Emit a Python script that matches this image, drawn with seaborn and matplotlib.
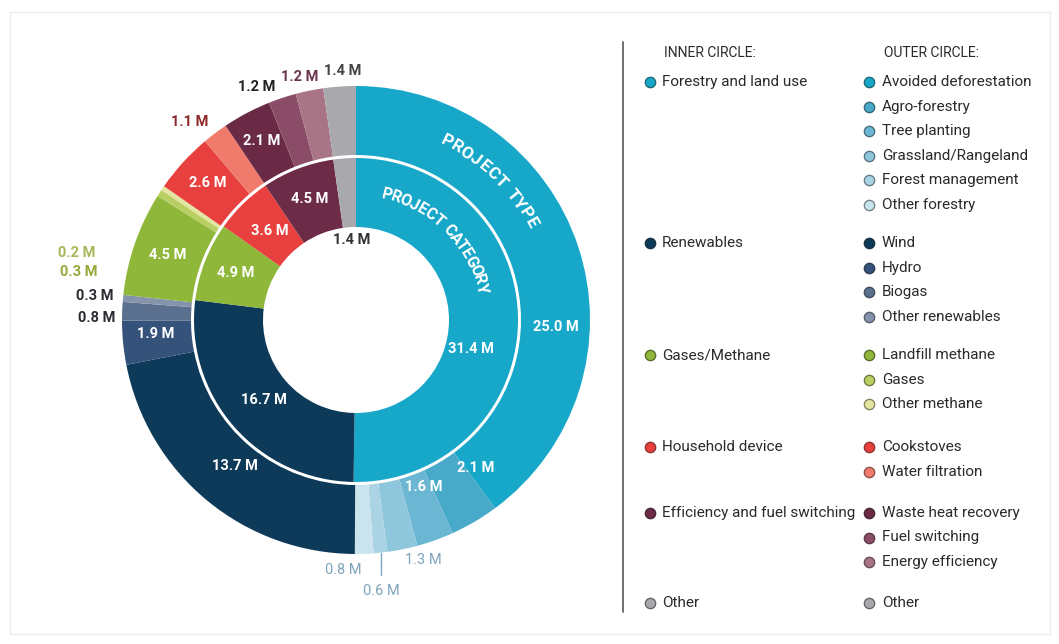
import numpy as np
import matplotlib
matplotlib.use("Agg")
import matplotlib.pyplot as plt
from matplotlib.patches import Rectangle
import seaborn as sns

# ---------------- data ----------------
inner_categories = ["Forestry and land use", "Renewables", "Gases/Methane",
                    "Household device", "Efficiency and fuel switching", "Other"]
inner_values = [31.4, 16.7, 4.9, 3.6, 4.5, 1.4]

outer_categories = ["Avoided deforestation", "Agro-forestry", "Tree planting",
                    "Grassland/Rangeland", "Forest management", "Other forestry",
                    "Wind", "Hydro", "Biogas", "Other renewables",
                    "Landfill methane", "Gases", "Other methane",
                    "Cookstoves", "Water filtration",
                    "Waste heat recovery", "Fuel switching", "Energy efficiency",
                    "Other"]
outer_values = [25.0, 2.1, 1.6, 1.3, 0.6, 0.8,
                13.7, 1.9, 0.8, 0.3,
                4.5, 0.3, 0.2,
                2.6, 1.1,
                2.1, 1.2, 1.2,
                1.4]
outer_group = [0, 0, 0, 0, 0, 0, 1, 1, 1, 1, 2, 2, 2, 3, 3, 4, 4, 4, 5]

# ---------------- styles ----------------
inner_colors = sns.color_palette(["#17a7c9", "#0e3a5a", "#8fb83a", "#e8403e", "#6c2b47", "#a9a9ad"])
outer_colors = sns.color_palette([
    "#17a7c9", "#48a9c9", "#6bb6d2", "#8ec6dc", "#aad4e4", "#c9e4ee",
    "#0e3a5a", "#34527a", "#5b6f8e", "#8593ab",
    "#8fb83a", "#b9cf63", "#e2e6a0",
    "#e8403e", "#f07b6c",
    "#6a2a45", "#8a4c66", "#a87587",
    "#a9a9ad"])

sns.set_theme(style="white")
FONT = ["Roboto", "DejaVu Sans"]
plt.rcParams["font.family"] = FONT

W, H = 1059, 644
CX, CY = 356, 320          # donut centre in pixels (from top-left)
R_OUT, R_MID_OUT, R_MID_IN, R_IN = 234, 165, 162, 93
HALF = 300

fig = plt.figure(figsize=(W / 100, H / 100), dpi=100)
fig.patch.set_facecolor("white")
ax = fig.add_axes([(CX - HALF) / W, (H - CY - HALF) / H, 2 * HALF / W, 2 * HALF / H])
ax.set_xlim(-HALF, HALF)
ax.set_ylim(-HALF, HALF)
ax.axis("off")

ax.pie(outer_values, radius=R_OUT, startangle=90, counterclock=False,
       colors=outer_colors, wedgeprops=dict(width=R_OUT - R_MID_OUT, linewidth=0))
ax.pie(inner_values, radius=R_MID_IN, startangle=90, counterclock=False,
       colors=inner_colors, wedgeprops=dict(width=R_MID_IN - R_IN, linewidth=0))
ax.set_xlim(-HALF, HALF)
ax.set_ylim(-HALF, HALF)


def polar(theta, r):
    t = np.deg2rad(theta)
    return r * np.sin(t), r * np.cos(t)


def mids(values):
    v = np.asarray(values, float)
    c = np.cumsum(v) / v.sum() * 360
    return c - v / v.sum() * 360 / 2

LABEL_FS = 10.5

# ---- inner labels (angle, radius, colour) ----
inner_mid = mids(inner_values)
inner_label_layout = [(104, 118, "white"), (None, 122, "white"), (None, 129, "white"),
                      (None, 124, "white"), (None, 130, "white"), (357, 80, "#333333")]
for v, m, (a, r, c) in zip(inner_values, inner_mid, inner_label_layout):
    x, y = polar(m if a is None else a, r)
    ax.text(x, y, f"{v:.1f} M", ha="center", va="center", color=c,
            fontsize=LABEL_FS, fontweight="bold")

# ---- outer labels ----
outer_mid = mids(outer_values)
LB = "#7fa5bd"
outer_label_layout = [
    (92, 200, "white"), (141, 190, "white"), (158, 180, "white"),
    (164.4, 249, LB), (174.7, 272, LB), (183, 250, LB),
    (None, 190, "white"), (266, 201, "white"), (270.4, 259, "#2b2b33"), (275.3, 262, "#2b2b33"),
    (289, 199, "white"), (279.9, 281, "#98a83a"), (283.5, 287, "#a9b75a"),
    (312.8, 202, "white"), (320, 258, "#8e2a2a"),
    (332.3, 202, "white"), (337, 253, "#222222"), (347, 249, "#6b3550"),
    (357, 249, "#444444")]
for v, m, (a, r, c) in zip(outer_values, outer_mid, outer_label_layout):
    x, y = polar(m if a is None else a, r)
    ax.text(x, y, f"{v:.1f} M", ha="center", va="center", color=c,
            fontsize=LABEL_FS, fontweight="bold" if c != LB else "normal")

# leader line for the 0.6 M slice
x0, y0 = polar(outer_mid[4], R_OUT)
ax.plot([x0, x0], [y0, y0 - 22], color=LB, lw=1)


# ---- curved ring titles ----
def curved(text, a0, a1, r, size):
    wts = np.array([0.55 if ch == " " else 0.5 if ch == "I" else 1.0 for ch in text])
    cum = np.cumsum(wts) - wts / 2
    pos = a0 + (cum - cum[0]) / (cum[-1] - cum[0]) * (a1 - a0)
    for ch, th in zip(text, pos):
        x, y = polar(th, r)
        ax.text(x, y, ch, rotation=-th, rotation_mode="anchor", ha="center",
                va="center", color="white", fontsize=size, fontweight="bold")

curved("PROJECT TYPE", 27, 61, 200, 12.5)
curved("PROJECT CATEGORY", 14, 76, 129, 11.5)

# ---------------- legend overlay ----------------
ov = fig.add_axes([0, 0, 1, 1])
ov.set_xlim(0, W)
ov.set_ylim(H, 0)
ov.axis("off")
ov.add_patch(Rectangle((10, 12), 1040, 622, fill=False, ec="#ececec", lw=1))
ov.plot([623, 623], [42, 612], color="#6f6f6f", lw=1.4)

TXT = "#2a2a2a"
LEG_FS = 11
ov.text(664, 53, "INNER CIRCLE:", fontsize=10, color=TXT, va="center", ha="left")
ov.text(884, 53, "OUTER CIRCLE:", fontsize=10, color=TXT, va="center", ha="left")

group_rows = [82, 243, 355, 447, 513, 603]
STEP = 24.5
for g, (name, col) in enumerate(zip(inner_categories, inner_colors)):
    y = group_rows[g]
    ov.scatter([650], [y], s=55, color=col, edgecolor=sns.dark_palette(col, 3)[1], lw=1, zorder=3)
    ov.text(662, y, name, fontsize=LEG_FS, color=TXT, va="center", ha="left")

counts = {}
for name, col, g in zip(outer_categories, outer_colors, outer_group):
    k = counts.get(g, 0)
    counts[g] = k + 1
    y = group_rows[g] + k * STEP
    ov.scatter([869], [y], s=55, color=col, edgecolor=sns.dark_palette(col, 3)[1], lw=1, zorder=3)
    ov.text(882, y, name, fontsize=LEG_FS, color=TXT, va="center", ha="left")

fig.savefig("out.png", dpi=100, facecolor="white")
